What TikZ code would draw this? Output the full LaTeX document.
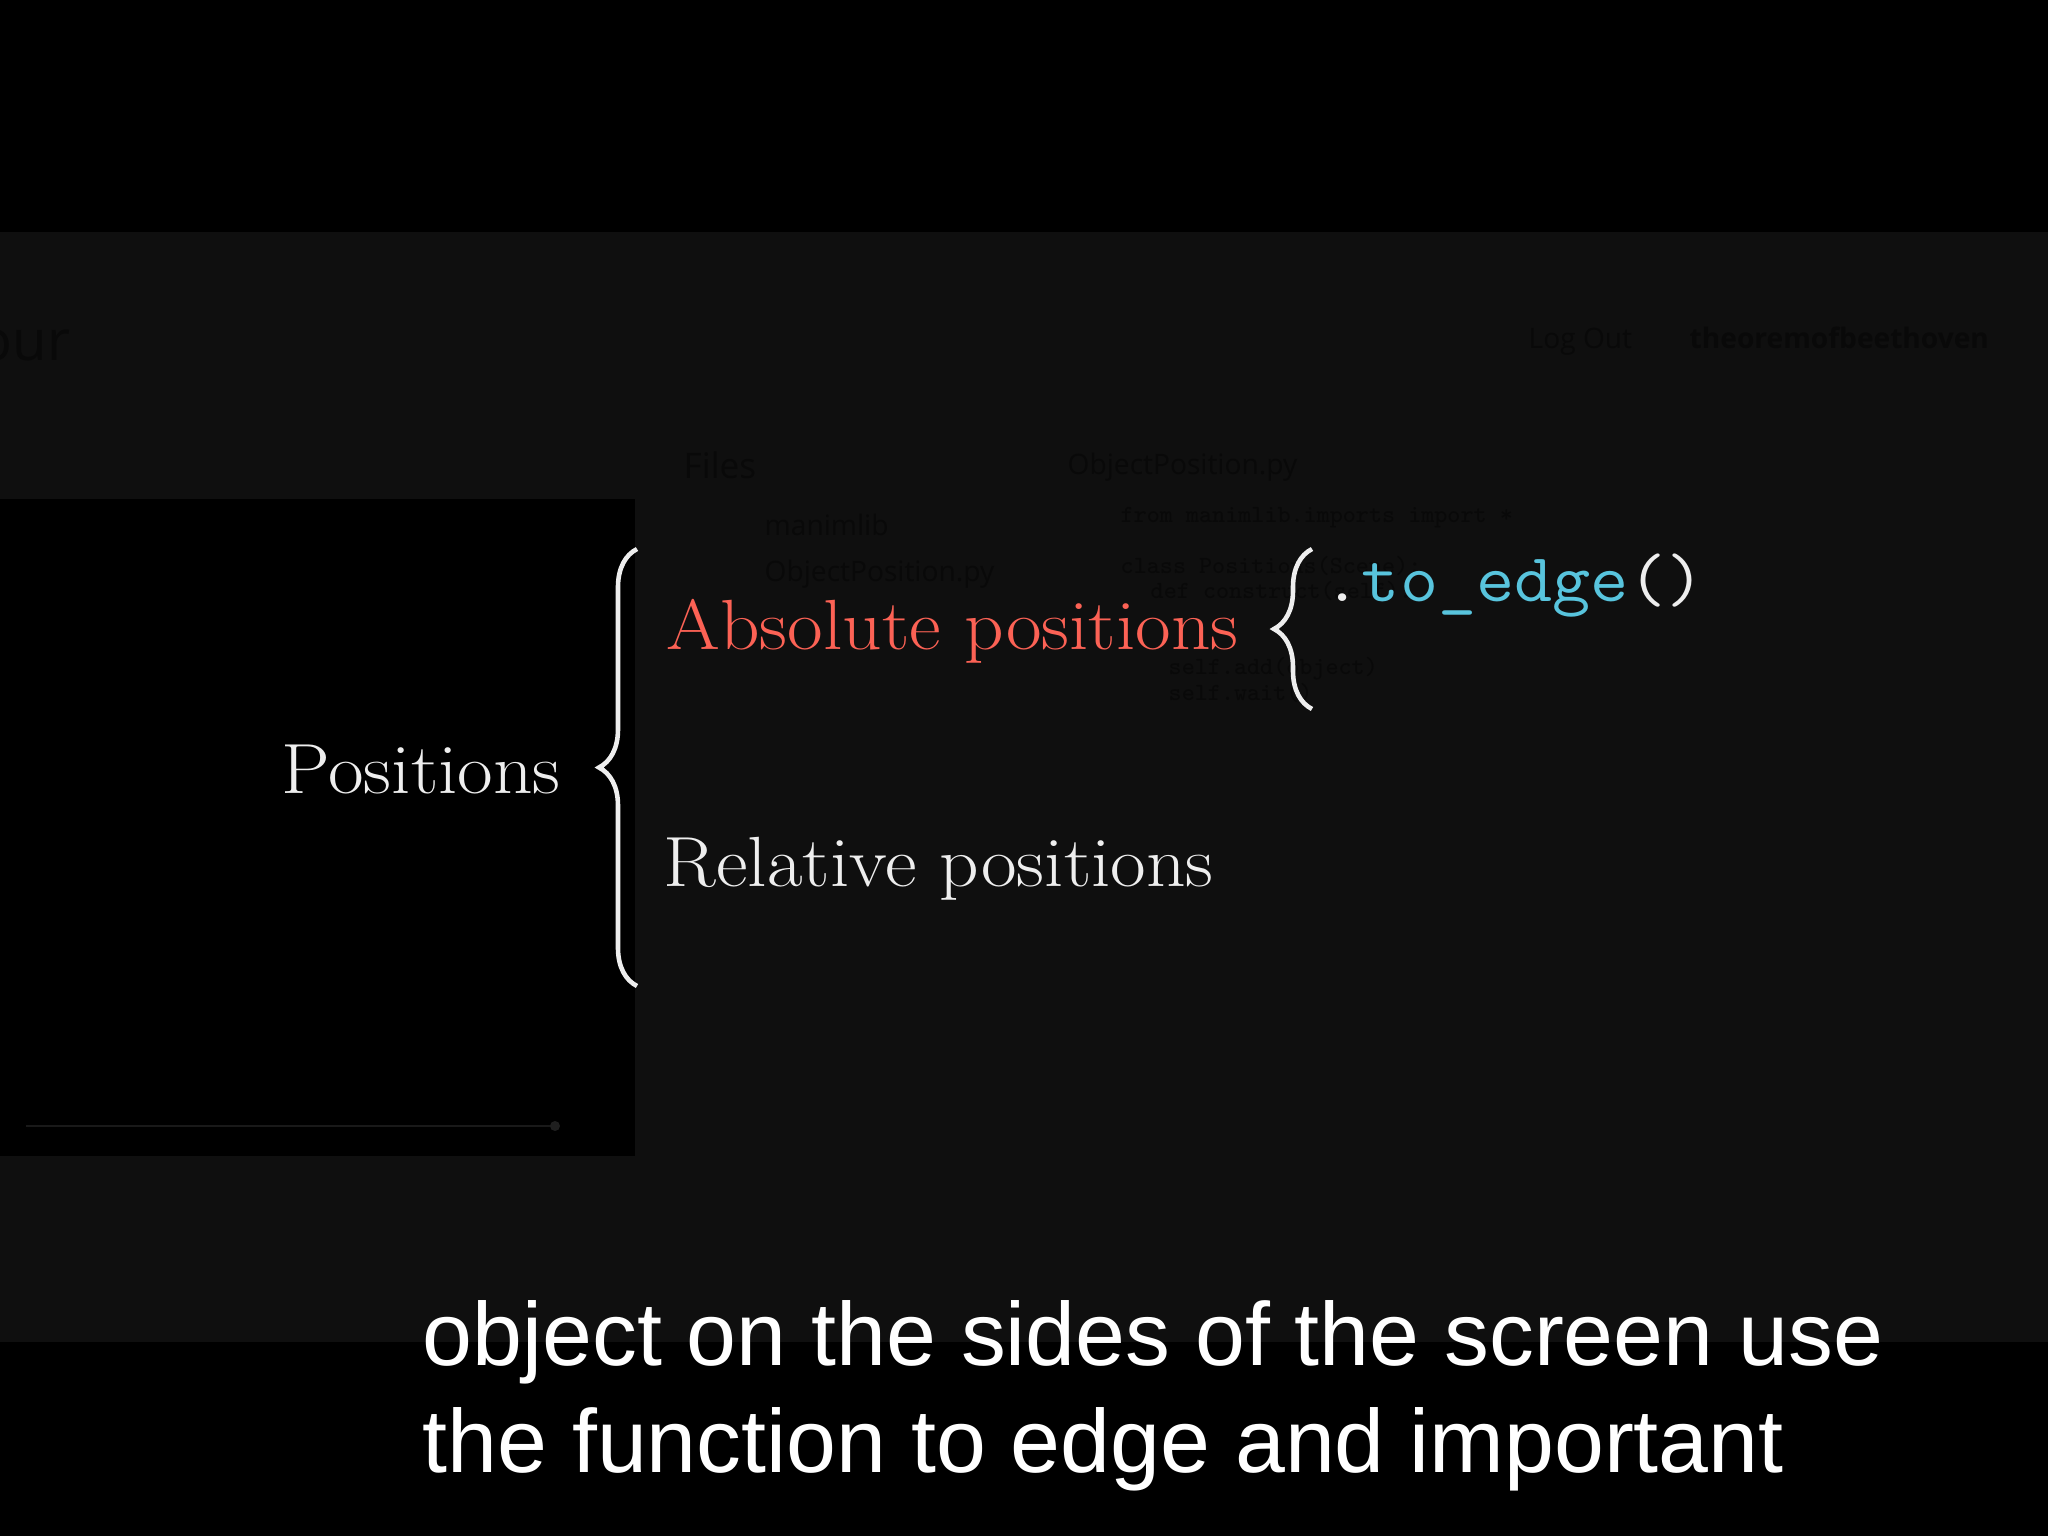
\documentclass[tikz,border=0pt]{standalone}
\usepackage{graphicx}
\usepackage{fontspec}
\newfontfamily\subfont{Liberation Sans}
\newfontfamily\uifont{Open Sans}
\usetikzlibrary{decorations.pathreplacing}

\definecolor{mblue}{HTML}{58C4DD}
\definecolor{mred}{HTML}{FC6255}
\definecolor{mwhite}{HTML}{EEEEEE}
\definecolor{panel}{HTML}{0F0F0F}
\definecolor{ghost}{HTML}{090909}

% the video frame is a little wider than tall
\newcommand{\wide}[1]{\scalebox{1.09}[1]{#1}}

\begin{document}
\begin{tikzpicture}[x=0.01cm, y=-0.01cm,
  lbl/.style={anchor=base west, inner sep=0pt, text=mwhite, font=\fontsize{20.2}{24}\selectfont},
  code/.style={anchor=base west, inner sep=0pt, font=\ttfamily\fontsize{19.5}{24}\selectfont},
  ghosttxt/.style={anchor=base west, inner sep=0pt, text=ghost, font=\uifont\fontsize{8}{10}\selectfont},
  ghostcode/.style={anchor=base west, inner sep=0pt, text=ghost, font=\ttfamily\fontsize{7}{9}\selectfont},
  subtxt/.style={anchor=base west, inner sep=0pt, text=white, font=\subfont\fontsize{25.5}{30}\selectfont},
  bracepath/.style={draw=mwhite, line width=1.3pt, decorate, decoration={brace, amplitude=0.38cm}}]
  % --- frame: black video, dimmed screen behind ---
  \useasboundingbox[fill=black] (0,0) rectangle (2048,1536);
  \clip (0,0) rectangle (2048,1536);
  \fill[panel] (0,232) rectangle (2048,1342);
  \fill[black] (0,189) rectangle (2048,232);
  \fill[black] (0,499) rectangle (635,1156);
  \coordinate (barL) at (26,1126); \coordinate (barR) at (555,1126);
  \draw[black!90!white, line width=0.6pt] (barL) -- (barR);
  \fill[black!88!white] (barR) circle (5);
  % --- faint editor behind the overlay ---
  \node[ghosttxt, font=\uifont\fontsize{16}{18}\selectfont] (our) at (-22,360) {our};
  \node[ghosttxt] (logout) at (1528,348) {Log Out};
  \node[ghosttxt, font=\uifont\bfseries\fontsize{8}{10}\selectfont] (user) at (1689,348) {theoremofbeethoven};
  \node[ghosttxt, font=\uifont\fontsize{10}{12}\selectfont] (files) at (683,478) {Files};
  \node[ghosttxt] (tab) at (1067,474) {ObjectPosition.py};
  \node[ghosttxt] (lib) at (764,535) {manimlib};
  \node[ghosttxt] (file) at (764,581) {ObjectPosition.py};
  \node[ghostcode] (c1) at (1120,522) {from manimlib.imports import *};
  \node[ghostcode] (c2) at (1120,573) {class Positions(Scene):};
  \node[ghostcode] (c3) at (1150,598) {def construct(self):};
  \node[ghostcode] (c4) at (1168,674) {self.add(object)};
  \node[ghostcode] (c5) at (1168,700) {self.wait()};
  % --- the scheme ---
  \node[lbl] (positions) at (281,793) {\wide{Positions}};
  \node[lbl, text=mred] (absolute) at (666,649) {\wide{Absolute positions}};
  \node[lbl] (relative) at (663,886) {\wide{Relative positions}};
  \node[code] (toedge) at (1323,601) {\scalebox{1.08}[1]{\textcolor{mwhite}{.}\textcolor{mblue}{to\_edge}\textcolor{mwhite}{()}}};
  \coordinate (bigtop) at (637,549); \coordinate (bigbot) at (637,986);
  \coordinate (smalltop) at (1312,549); \coordinate (smallbot) at (1312,709);
  \draw[bracepath] (bigbot) -- (bigtop);
  \draw[bracepath] (smallbot) -- (smalltop);
  % --- subtitles ---
  \node[subtxt] (sub1) at (422,1365) {object on the sides of the screen use};
  \node[subtxt] (sub2) at (422,1472) {the function to edge and important};
\end{tikzpicture}
\end{document}
